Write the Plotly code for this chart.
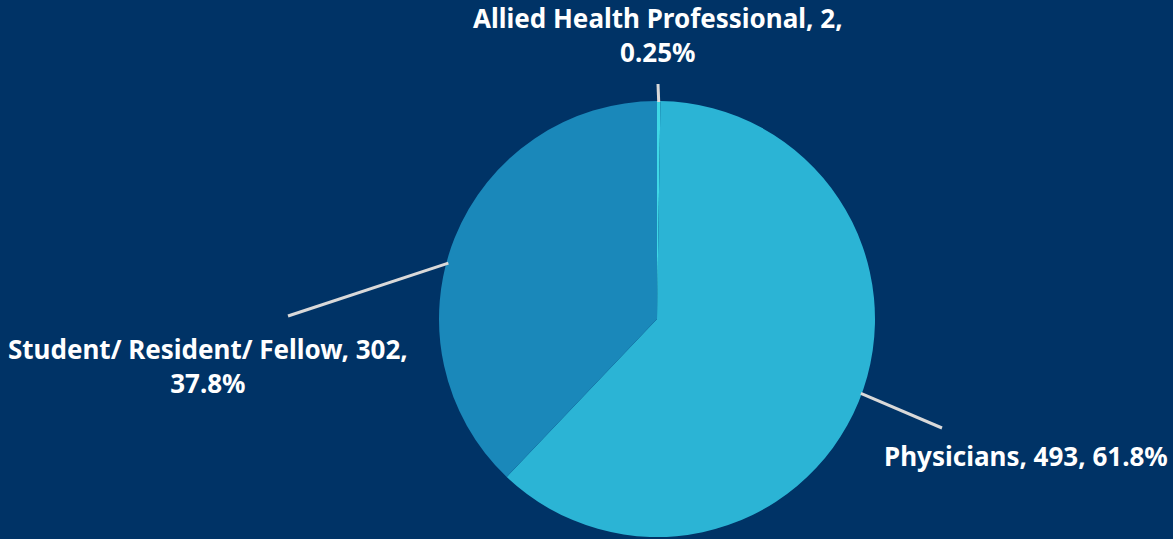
import math
import plotly.graph_objects as go

categories = ["Allied Health Professional", "Physicians", "Student/ Resident/ Fellow"]
counts = [2, 493, 302]
percent_labels = ["0.25%", "61.8%", "37.8%"]
colors = ["#3FD8E6", "#2BB4D5", "#1A88BA"]

W, H = 1173, 539
cx, cy, R = 657, 319, 218  # pixel center / radius of pie

fig = go.Figure(go.Pie(
    labels=categories, values=counts, sort=False, direction="clockwise",
    rotation=0, textinfo="none", hoverinfo="label+value+percent",
    marker=dict(colors=colors, line=dict(width=0)),
    domain=dict(x=[(cx - R) / W, (cx + R) / W], y=[(H - cy - R) / H, (H - cy + R) / H]),
    showlegend=False,
))

# leader-line anchor angles (clockwise from 12 o'clock) from data
total = sum(counts)
anchor_frac = [0.5, 0.49, 0.45]
angles = []
acc = 0
for v, f in zip(counts, anchor_frac):
    angles.append((acc + v * f) / total * 2 * math.pi)
    acc += v

def px_to_paper(x, y):
    return x / W, 1 - y / H

label_pos = [(658, 35), (1026, 456), (208, 366)]
line_end = [(658, 84), (942, 428), (288, 316)]
texts = [f"{c}, {n},<br>{p}" if i != 1 else f"{c}, {n}, {p}"
         for i, (c, n, p) in enumerate(zip(categories, counts, percent_labels))]

shapes = []
annotations = []
for i in range(3):
    a = angles[i]
    rr = R - 1 if i != 2 else R - 2
    sx = cx + rr * math.sin(a)
    sy = cy - rr * math.cos(a)
    x0, y0 = px_to_paper(sx, sy)
    x1, y1 = px_to_paper(*line_end[i])
    shapes.append(dict(type="line", xref="paper", yref="paper", x0=x0, y0=y0, x1=x1, y1=y1,
                       line=dict(color="#D9D9D9", width=3)))
    lx, ly = label_pos[i]
    px, py = px_to_paper(lx, ly)
    annotations.append(dict(x=px, y=py, xref="paper", yref="paper", text=texts[i],
                            showarrow=False, xanchor="center", yanchor="middle", align="center",
                            font=dict(family="Noto Sans", size=26, color="white", weight="bold")))

fig.update_layout(
    width=W, height=H, margin=dict(l=0, r=0, t=0, b=0),
    paper_bgcolor="#003366", plot_bgcolor="#003366",
    shapes=shapes, annotations=annotations,
)
fig.write_html("out.html", config={"displayModeBar": False},
               post_script="document.body.style.margin='0';document.body.style.background='#003366';")
